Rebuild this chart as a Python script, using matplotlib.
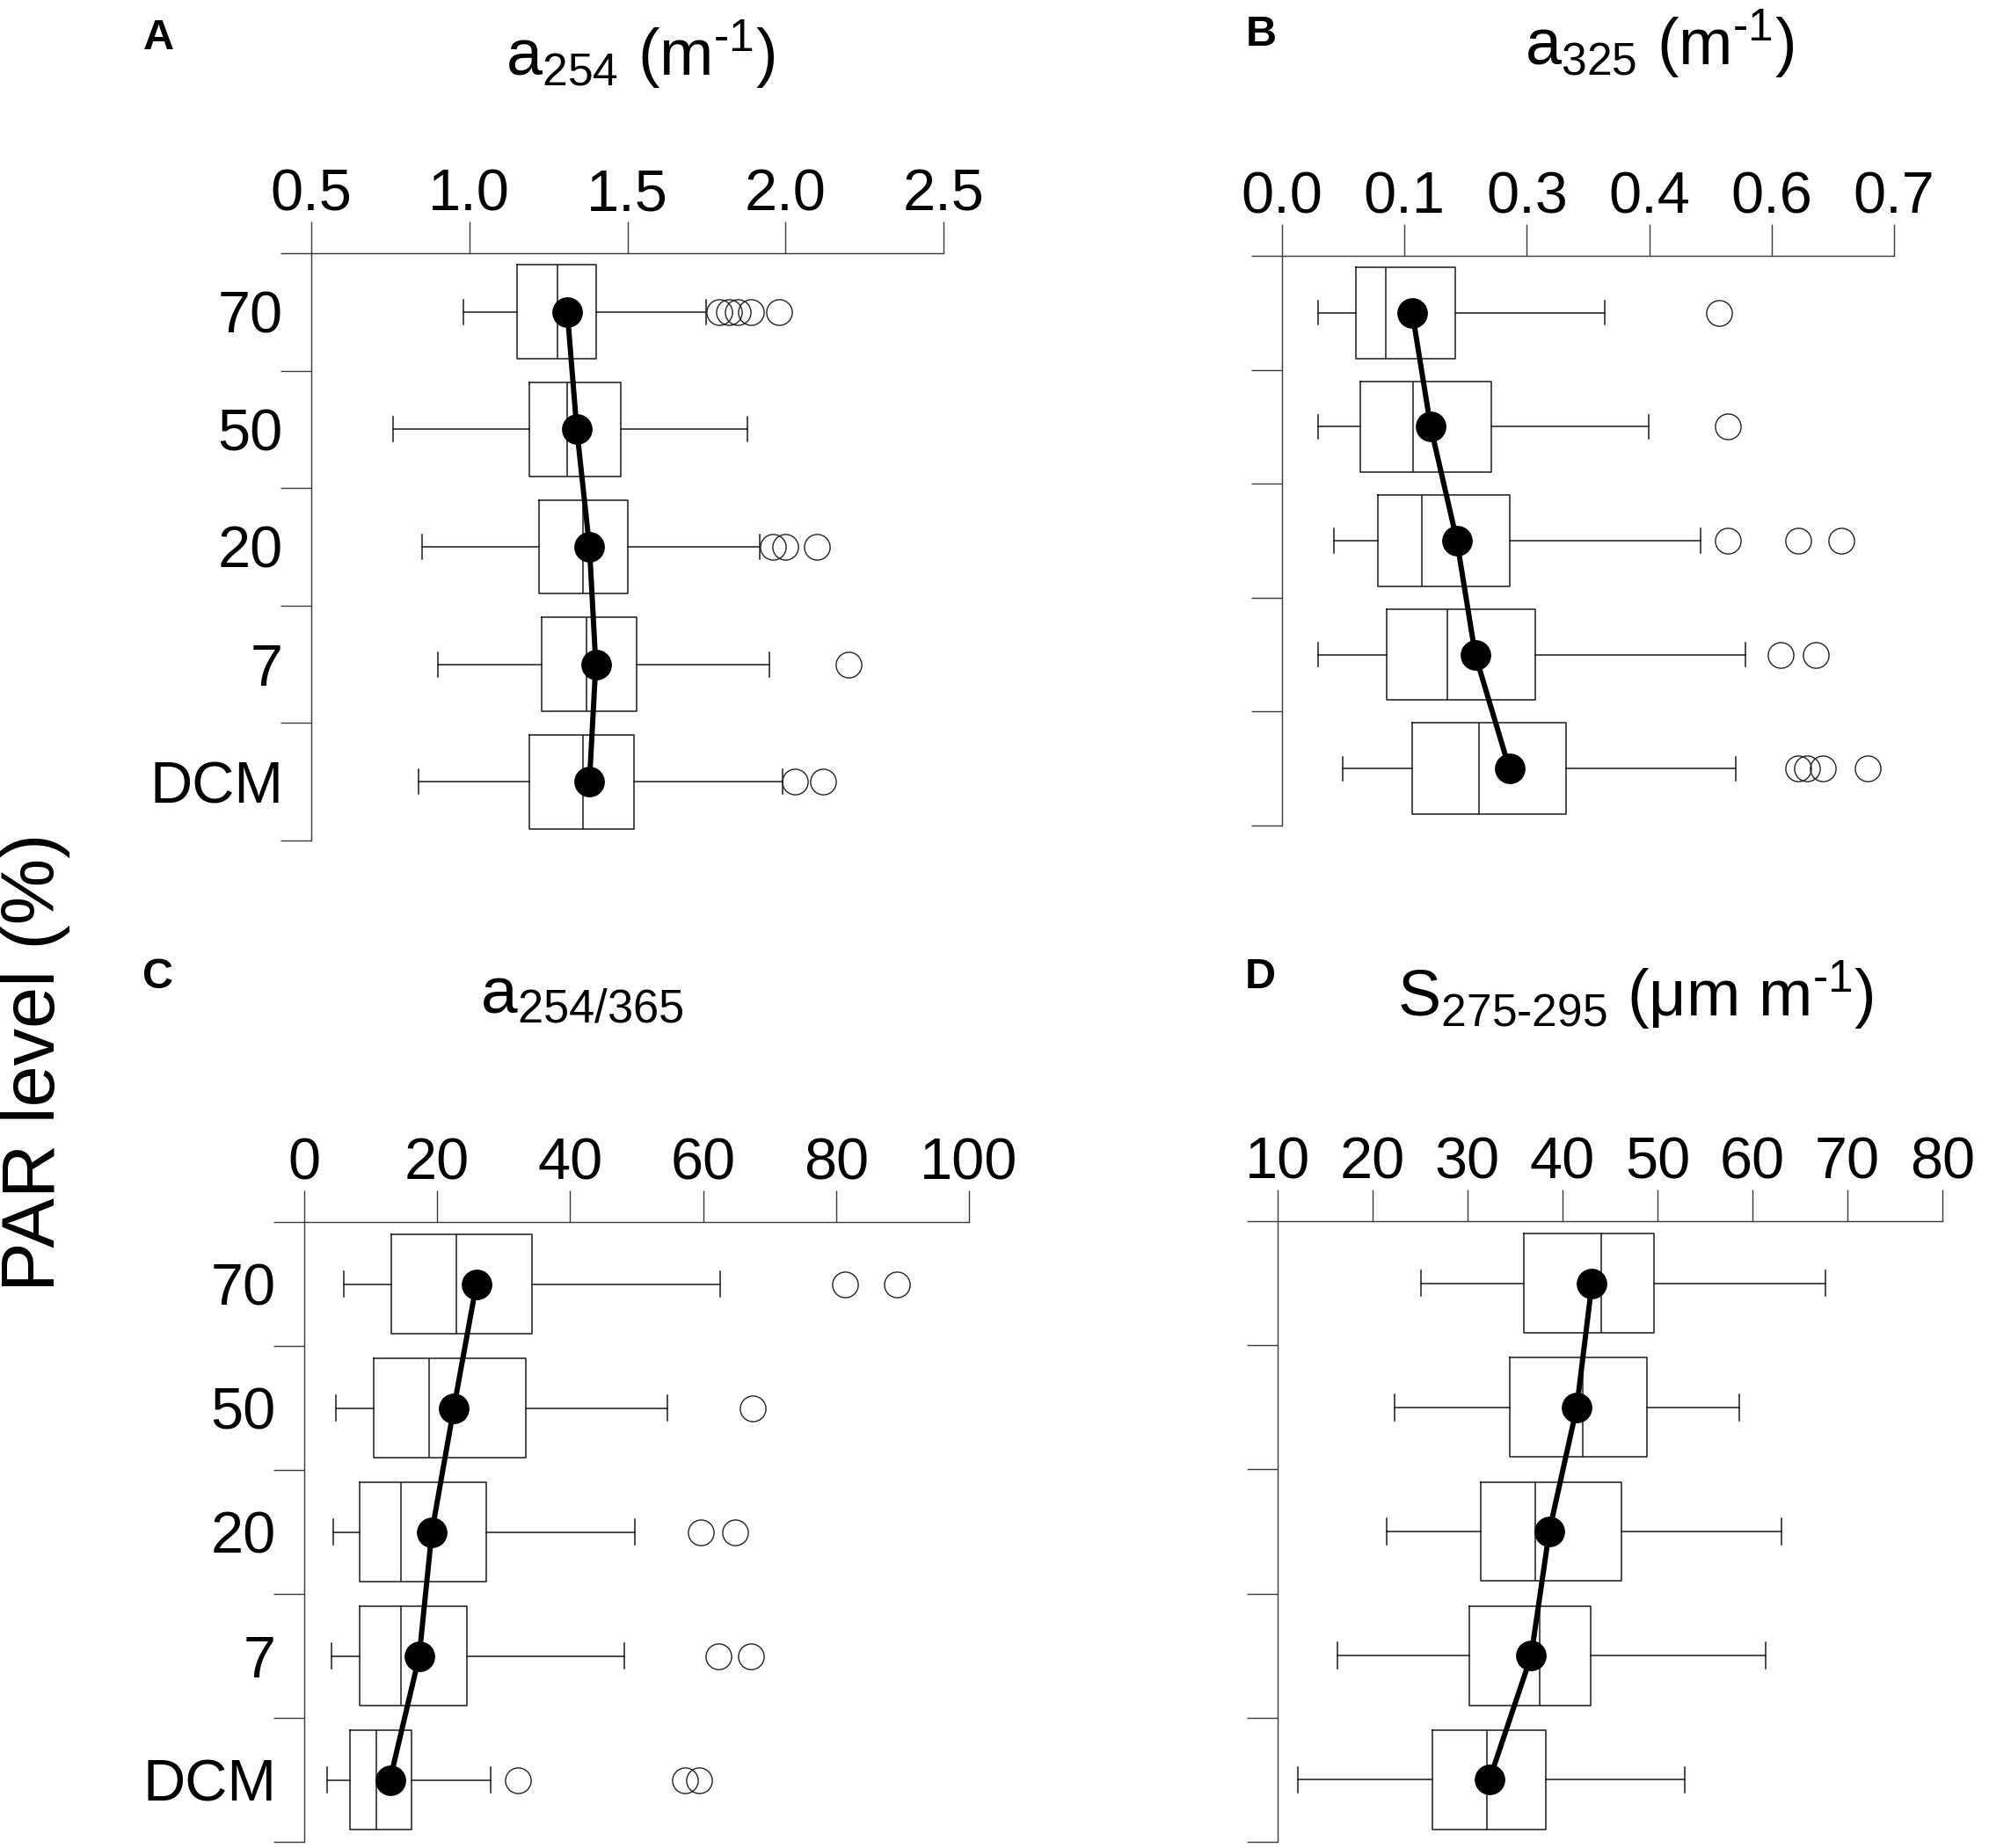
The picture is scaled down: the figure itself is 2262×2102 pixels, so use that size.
import matplotlib
matplotlib.use('Agg')
import matplotlib.pyplot as plt

plt.rcParams['font.family'] = ['Liberation Sans', 'DejaVu Sans']
plt.rcParams['mathtext.fontset'] = 'custom'
plt.rcParams['mathtext.rm'] = 'Liberation Sans'
plt.rcParams['mathtext.it'] = 'Liberation Sans:italic'
plt.rcParams['mathtext.bf'] = 'Liberation Sans:bold'
plt.rcParams['mathtext.default'] = 'regular'

categories = ['70', '50', '20', '7', 'DCM']

# Panel A: a254 (m-1)
a254_whislo = [0.98, 0.76, 0.85, 0.90, 0.84]
a254_q1 = [1.15, 1.19, 1.22, 1.23, 1.19]
a254_med = [1.28, 1.31, 1.36, 1.37, 1.36]
a254_q3 = [1.40, 1.48, 1.50, 1.53, 1.52]
a254_whishi = [1.75, 1.88, 1.92, 1.95, 1.99]
a254_mean = [1.31, 1.34, 1.38, 1.40, 1.38]
a254_fliers = [[1.79, 1.82, 1.85, 1.89, 1.98], [], [1.96, 2.00, 2.10], [2.20], [2.03, 2.12]]
a254_ticks = [0.5, 1.0, 1.5, 2.0, 2.5]
a254_ticklabels = ['0.5', '1.0', '1.5', '2.0', '2.5']

# Panel B: a325 (m-1)
a325_whislo = [0.041, 0.041, 0.059, 0.041, 0.069]
a325_q1 = [0.084, 0.090, 0.110, 0.120, 0.149]
a325_med = [0.119, 0.150, 0.160, 0.189, 0.225]
a325_q3 = [0.198, 0.239, 0.260, 0.290, 0.325]
a325_whishi = [0.369, 0.419, 0.479, 0.530, 0.519]
a325_mean = [0.149, 0.170, 0.200, 0.221, 0.260]
a325_fliers = [[0.500], [0.510], [0.510, 0.590, 0.640], [0.570, 0.610], [0.590, 0.600, 0.619, 0.670]]
a325_ticks = [0.0, 0.14, 0.28, 0.42, 0.56, 0.70]
a325_ticklabels = ['0.0', '0.1', '0.3', '0.4', '0.6', '0.7']

# Panel C: a254/365
ratio_whislo = [6.0, 4.7, 4.4, 4.1, 3.4]
ratio_q1 = [13.1, 10.5, 8.3, 8.3, 6.9]
ratio_med = [22.9, 18.8, 14.6, 14.5, 10.9]
ratio_q3 = [34.3, 33.3, 27.4, 24.5, 16.2]
ratio_whishi = [62.6, 54.6, 49.7, 48.1, 28.0]
ratio_mean = [25.9, 22.5, 19.2, 17.3, 12.9]
ratio_fliers = [[81.4, 89.2], [67.5], [59.6, 64.8], [62.3, 67.2], [32.1, 57.3, 59.4]]
ratio_ticks = [0, 20, 40, 60, 80, 100]
ratio_ticklabels = ['0', '20', '40', '60', '80', '100']

# Panel D: S275-295 (um m-1)
slope_whislo = [25.1, 22.3, 21.5, 16.3, 12.1]
slope_q1 = [35.9, 34.4, 31.4, 30.2, 26.3]
slope_med = [44.1, 42.1, 37.1, 37.6, 32.0]
slope_q3 = [49.6, 48.9, 46.2, 43.0, 38.2]
slope_whishi = [67.7, 58.6, 63.1, 61.4, 52.9]
slope_mean = [43.1, 41.5, 38.6, 36.7, 32.3]
slope_fliers = [[], [], [], [], []]
slope_ticks = [10, 20, 30, 40, 50, 60, 70, 80]
slope_ticklabels = ['10', '20', '30', '40', '50', '60', '70', '80']

W, H = 2262, 2102
fig = plt.figure(figsize=(W / 100, H / 100), dpi=100)

LINE = '#1a1a1a'
SPINE = '#3a3a3a'


def add_axes(l, r, t, b):
    return fig.add_axes([l / W, 1 - b / H, (r - l) / W, (b - t) / H])


def panel(ax, whislo, q1, med, q3, whishi, mean, fliers, ticks, ticklabels,
          xlim, show_labels):
    pos = list(range(len(categories)))
    stats = []
    for i in pos:
        stats.append(dict(whislo=whislo[i], q1=q1[i], med=med[i], q3=q3[i],
                          whishi=whishi[i], fliers=fliers[i]))
    ax.bxp(stats, positions=pos, widths=0.8, capwidths=0.21,
           orientation='horizontal', showfliers=True, patch_artist=False,
           boxprops=dict(color=LINE, linewidth=1.1),
           medianprops=dict(color=LINE, linewidth=1.1),
           whiskerprops=dict(color=LINE, linewidth=1.1),
           capprops=dict(color=LINE, linewidth=1.1),
           flierprops=dict(marker='o', markerfacecolor='none',
                           markeredgecolor='#222222', markeredgewidth=1.0,
                           markersize=21, linestyle='none'))
    ax.plot(mean, pos, '-o', color='black', linewidth=4.3, markersize=24,
            zorder=5, clip_on=False)
    ax.set_xlim(*xlim)
    ax.set_ylim(len(categories) - 0.5, -0.5)
    ax.set_xticks(ticks)
    ax.set_xticklabels(ticklabels)
    ax.set_yticks(pos)
    if show_labels:
        ax.set_yticklabels(categories)
    else:
        ax.set_yticklabels([])
    ax.set_yticks([p - 0.5 for p in pos] + [len(pos) - 0.5], minor=True)
    ax.xaxis.tick_top()
    ax.tick_params(axis='x', which='major', direction='out', length=26,
                   width=1.0, color=SPINE, labelsize=48, pad=-1,
                   top=True, bottom=False, labeltop=True, labelbottom=False)
    ax.tick_params(axis='x', which='minor', top=False, bottom=False)
    ax.tick_params(axis='y', which='major', length=0, labelsize=48, pad=23)
    ax.tick_params(axis='y', which='minor', direction='out', length=25.5,
                   width=1.0, color=SPINE)
    for s in ['right', 'bottom']:
        ax.spines[s].set_visible(False)
    for s in ['top', 'left']:
        ax.spines[s].set_color(SPINE)
        ax.spines[s].set_linewidth(1.0)
    ax.set_facecolor('none')


axA = add_axes(354, 1073, 288, 956)
panel(axA, a254_whislo, a254_q1, a254_med, a254_q3, a254_whishi, a254_mean,
      a254_fliers, a254_ticks, a254_ticklabels, (0.5, 2.5), True)

axB = add_axes(1458, 2154, 291, 939)
panel(axB, a325_whislo, a325_q1, a325_med, a325_q3, a325_whishi, a325_mean,
      a325_fliers, a325_ticks, a325_ticklabels, (0.0, 0.7), False)

axC = add_axes(346, 1102, 1390, 2095)
panel(axC, ratio_whislo, ratio_q1, ratio_med, ratio_q3, ratio_whishi, ratio_mean,
      ratio_fliers, ratio_ticks, ratio_ticklabels, (0, 100), True)

axD = add_axes(1453, 2209, 1389, 2095)
panel(axD, slope_whislo, slope_q1, slope_med, slope_q3, slope_whishi, slope_mean,
      slope_fliers, slope_ticks, slope_ticklabels, (10, 80), False)


def ftext(x, y, s, **kw):
    fig.text(x / W, 1 - y / H, s, **kw)


TFS = 53
ftext(728, 86, r'a$_{254}$ (m$^{\text{-1}}$)', ha='center', va='baseline', fontsize=TFS)
ftext(1887, 74, r'a$_{325}$ (m$^{\text{-1}}$)', ha='center', va='baseline', fontsize=TFS)
ftext(662, 1153, r'a$_{254/365}$', ha='center', va='baseline', fontsize=TFS + 1)
ftext(1860, 1156, r'S$_{\text{275-295}}$ (μm m$^{\text{-1}}$)', ha='center', va='baseline', fontsize=TFS)

LFS = 35
ftext(180, 43, 'A', ha='center', va='center', fontsize=LFS, fontweight='bold')
ftext(1434, 40, 'B', ha='center', va='center', fontsize=LFS, fontweight='bold')
ftext(179, 1112, 'C', ha='center', va='center', fontsize=LFS, fontweight='bold')
ftext(1433, 1112, 'D', ha='center', va='center', fontsize=LFS, fontweight='bold')

ftext(40, 1208, 'PAR level (%)', rotation=90, ha='center', va='center', fontsize=61)

fig.savefig('out.png', dpi=100, facecolor='white')
